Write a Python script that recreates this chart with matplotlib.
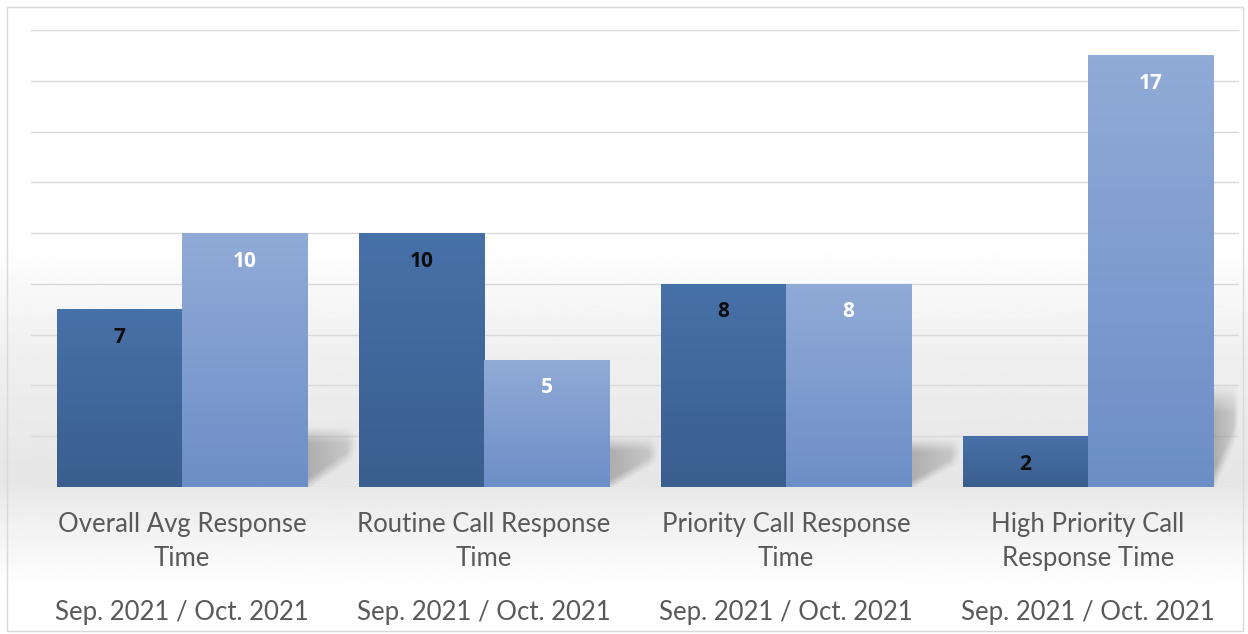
import numpy as np
import matplotlib.pyplot as plt
from matplotlib.colors import to_rgb

categories = ["Overall Avg Response\nTime", "Routine Call Response\nTime",
              "Priority Call Response\nTime", "High Priority Call\nResponse Time"]
period_label = "Sep. 2021 / Oct. 2021"
sep_2021 = [7, 10, 8, 2]
oct_2021 = [10, 5, 8, 17]

plt.rcParams['font.family'] = ['Lato', 'DejaVu Sans']

fig = plt.figure(figsize=(12.48, 6.34), dpi=100)

# background: white top, grey floor band, fading to white at bottom
bg = fig.add_axes([0, 0, 1, 1], zorder=-10)
yy = np.linspace(0, 1, 400)
shade = np.interp(yy, [0, 0.07, 0.2, 0.24, 0.45, 0.62, 1.0],
                  [1.0, 1.0, 0.93, 0.9, 0.94, 1.0, 1.0])
bg.imshow(np.repeat(shade[:, None], 2, axis=1), cmap='gray', vmin=0, vmax=1,
          aspect='auto', origin='lower', extent=[0, 1, 0, 1])
bg.set_xlim(0, 1)
bg.set_ylim(0, 1)
bg.axis('off')
bg.add_patch(plt.Rectangle((0.006, 0.004), 0.99, 0.985, fill=False,
                           edgecolor='#d9d9d9', linewidth=1.0))

ax = fig.add_axes([0.0248, 0.2319, 0.968, 0.7208])
ax.patch.set_alpha(0)
x = np.arange(len(categories))
w = 0.414

ax.set_xlim(-0.5, len(categories) - 0.5)
ax.set_ylim(0, 18)
ax.set_yticks(np.arange(0, 19, 2))
ax.yaxis.grid(True, color='#d9d9d9', linewidth=1.0)
ax.set_axisbelow(True)
for s in ax.spines.values():
    s.set_visible(False)
ax.tick_params(left=False, labelleft=False, bottom=False, labelbottom=False)


def gradient_bar(xc, h, top, bottom):
    r = ax.bar(xc, h, w, color=bottom, zorder=3)[0]
    c1 = np.array(to_rgb(top))
    c2 = np.array(to_rgb(bottom))
    t = np.linspace(0, 1, 100)[:, None]
    img = (c2 * (1 - t) + c1 * t)[:, None, :]
    im = ax.imshow(img, extent=[xc - w / 2, xc + w / 2, 0, h], origin='lower',
                   aspect='auto', zorder=4)
    im.set_clip_path(r)


def shadow(xe, length, height):
    # soft slanted floor shadow behind the right bar of a group
    nx, ny = 80, 120
    gx = np.linspace(0, 1, nx)[None, :]
    gy = np.linspace(0, 1, ny)[:, None]
    above = np.clip((gy - 0.55 * gx) * 5 + 0.3, 0, 1)
    below_top = np.clip((1 - gy) * 3.5, 0, 1)
    fade_x = np.clip(1 - 0.55 * gx, 0, 1) * np.clip((1 - gx) * 5, 0, 1)
    img = np.zeros((ny, nx, 4))
    img[..., :3] = 0.45
    img[..., 3] = 0.5 * above * below_top * fade_x
    ax.imshow(img, extent=[xe, xe + length, 0, height], origin='lower',
              aspect='auto', zorder=2, interpolation='bilinear')


for i in range(len(categories)):
    right = x[i] + w
    tall = max(sep_2021[i], oct_2021[i])
    length = 0.165 if i < len(categories) - 1 else 0.085
    shadow(right, length, 0.24 * oct_2021[i] if oct_2021[i] >= sep_2021[i] else 0.2 * tall)
    gradient_bar(x[i] - w / 2, sep_2021[i], '#4771a9', '#3a5e8e')
    gradient_bar(x[i] + w / 2, oct_2021[i], '#91abd7', '#6c8ec7')
    ax.text(x[i] - w / 2, sep_2021[i] - 1.1, str(sep_2021[i]), ha='center', va='center',
            fontsize=15, fontweight='bold', color='#0d0d0d', zorder=6,
            family=['Open Sans', 'DejaVu Sans'])
    ax.text(x[i] + w / 2, oct_2021[i] - 1.1, str(oct_2021[i]), ha='center', va='center',
            fontsize=15, fontweight='bold', color='white', zorder=6,
            family=['Open Sans', 'DejaVu Sans'])
    ax.text(x[i], -0.97, categories[i], ha='center', va='top', fontsize=18.5,
            color='#595959', linespacing=1.45)
    ax.text(x[i], -4.47, period_label, ha='center', va='top', fontsize=18.5,
            color='#595959')

fig.savefig('out.png', dpi=100)
